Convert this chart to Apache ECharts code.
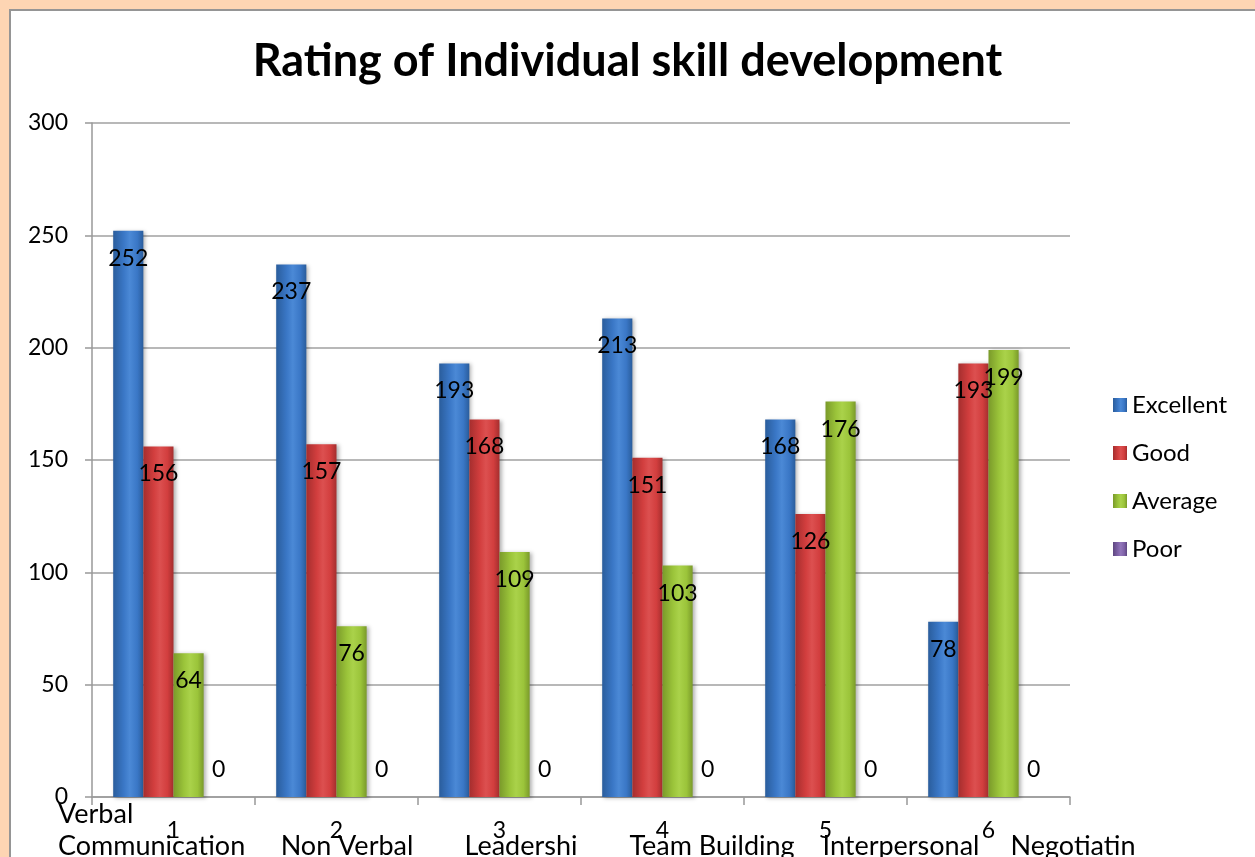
<!DOCTYPE html>
<html>
<head>
<meta charset="utf-8">
<script src="https://cdn.jsdelivr.net/npm/echarts@6/dist/echarts.min.js"></script>
<style>
  html, body { margin: 0; padding: 0; width: 1255px; height: 857px; overflow: hidden; background: #fdd5b3; }
  #frame { position: absolute; left: 9px; top: 9px; width: 1260px; height: 860px; background: #fff;
           border-top: 2px solid #959595; border-left: 2px solid #959595; }
  #chart { position: absolute; left: 0; top: 0; width: 1255px; height: 857px; }
</style>
</head>
<body>
<div id="frame"></div>
<div id="chart"></div>
<script>
// ---- data ----
const categories = ['1', '2', '3', '4', '5', '6'];
const skillNames = ['Verbal\nCommunication', 'Non Verbal', 'Leadershi', 'Team Building', 'Interpersonal', 'Negotiatin'];
const seriesNames = ['Excellent', 'Good', 'Average', 'Poor'];
const excellent = [252, 237, 193, 213, 168, 78];
const good = [156, 157, 168, 151, 126, 193];
const average = [64, 76, 109, 103, 176, 199];
const poor = [0, 0, 0, 0, 0, 0];
const yTicks = { min: 0, max: 300, interval: 50 };

// ---- layout / style ----
const FONT = 'Lato, "Open Sans", sans-serif';
const skillLayout = [
  { x: 58, align: 'left', lines: 2 }, { x: 347, align: 'center', lines: 1 }, { x: 521, align: 'center', lines: 1 },
  { x: 712, align: 'center', lines: 1 }, { x: 901, align: 'center', lines: 1 }, { x: 1073, align: 'center', lines: 1 }
];
function grad(dark, mid, light) {
  return new echarts.graphic.LinearGradient(0, 0, 1, 0, [
    { offset: 0, color: dark }, { offset: 0.35, color: mid }, { offset: 0.55, color: light },
    { offset: 0.8, color: mid }, { offset: 1, color: dark }
  ]);
}
const palette = [
  grad('#2a5d9c', '#3a77c6', '#4b89d6'),
  grad('#a52e2e', '#d23e3e', '#dc5050'),
  grad('#7a9a2a', '#9bc43a', '#aad24a'),
  grad('#5e4680', '#7f62a8', '#9276ba')
];
const values = [excellent, good, average, poor];

const chart = echarts.init(document.getElementById('chart'), null, { renderer: 'canvas' });
const series = values.map((v, i) => ({
  name: seriesNames[i],
  type: 'bar',
  data: v,
  barGap: '0%',
  barCategoryGap: '26%',
  itemStyle: {
    color: palette[i],
    shadowBlur: 4, shadowColor: 'rgba(0,0,0,0.3)', shadowOffsetX: 2, shadowOffsetY: 1
  },
  label: {
    show: true,
    position: i === 3 ? 'top' : 'insideTop',
    distance: 16,
    color: '#000',
    fontSize: 23,
    fontFamily: FONT
  }
}));

const LH = 32;
chart.setOption({
  backgroundColor: 'transparent',
  animation: false,
  title: {
    text: 'Rating of Individual skill development',
    left: 'center', top: 34,
    textStyle: { fontSize: 45, fontWeight: 'bold', color: '#000', fontFamily: FONT }
  },
  legend: {
    orient: 'vertical',
    left: 1108, top: 388,
    itemWidth: 14, itemHeight: 14, itemGap: 24,
    icon: 'rect',
    textStyle: { fontSize: 24, color: '#000', fontFamily: FONT },
    data: seriesNames
  },
  grid: { left: 92, right: 185, top: 123, bottom: 60, containLabel: false },
  xAxis: {
    type: 'category',
    data: categories,
    axisLine: { lineStyle: { color: '#999', width: 1.5 } },
    axisTick: { show: true, length: 8, interval: 0, lineStyle: { color: '#999', width: 1.5 } },
    axisLabel: { color: '#000', fontSize: 23, fontFamily: FONT, margin: 22 }
  },
  yAxis: {
    type: 'value',
    min: yTicks.min, max: yTicks.max, interval: yTicks.interval,
    axisLine: { show: true, lineStyle: { color: '#999', width: 1.5 } },
    axisTick: { show: true, length: 7, lineStyle: { color: '#999', width: 1.5 } },
    splitLine: { lineStyle: { color: '#a0a0a0', width: 1.5 } },
    axisLabel: { color: '#000', fontSize: 23, fontFamily: FONT, margin: 24 }
  },
  graphic: skillNames.map((name, i) => ({
    type: 'text',
    x: skillLayout[i].x,
    y: 846 - LH / 2 - (skillLayout[i].lines - 1) * LH,
    style: {
      text: name,
      textAlign: skillLayout[i].align,
      textVerticalAlign: 'top',
      fill: '#000',
      fontSize: 27,
      fontFamily: FONT,
      lineHeight: LH
    },
    z: 10
  })),
  series: series
});
</script>
</body>
</html>
